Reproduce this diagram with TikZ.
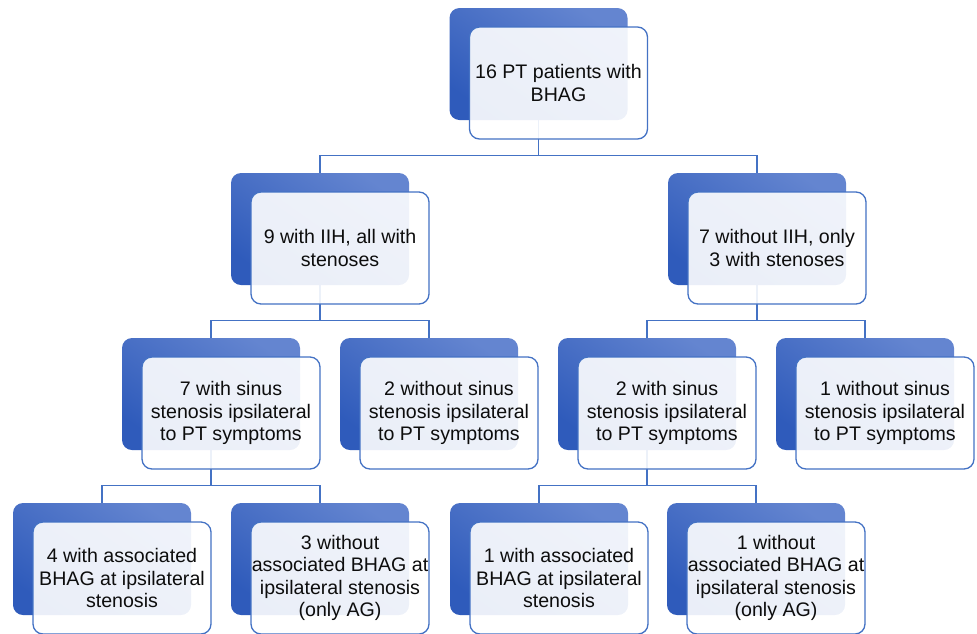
\documentclass[tikz,border=0pt]{standalone}
\usepackage{fontspec}
\setmainfont{Liberation Sans}
\definecolor{bdark}{HTML}{2F5BBB}
\definecolor{blight}{HTML}{6485D0}
\definecolor{bline}{HTML}{4472C4}
\definecolor{txt}{HTML}{0D0D0D}
\tikzset{
  backbox/.style={rectangle, rounded corners=10pt, minimum width=178pt, minimum height=112pt,
    inner sep=0pt, draw=none, top color=blight, bottom color=bdark, shading angle=-35},
  hiddenbox/.style={rectangle, minimum width=178pt, minimum height=112pt, inner sep=0pt},
  frontbox/.style={rectangle, rounded corners=10pt, minimum width=178pt, minimum height=112pt,
    inner sep=0pt, draw=bline, line width=1.3pt, fill=white, fill opacity=0.9, text opacity=1,
    text=txt, align=center, font=\fontsize{19.6}{22.3}\selectfont},
  conn/.style={draw=bline, line width=1.2pt}
}
\newcommand{\pbox}[4]{%
  \node[backbox] (#1-b) at (#2,#3) {};
  \node[frontbox] (#1) at ([shift={(20,19)}]#1-b.center) {#4};
}
\begin{document}
\begin{tikzpicture}[x=1pt,y=-1pt]
\useasboundingbox (0,0) rectangle (977,633);
% placeholders for the back boxes, so that connectors lie beneath them
\node[hiddenbox] (top-h) at (538.5,64) {};
\node[hiddenbox] (l2a-h) at (320,229) {};
\node[hiddenbox] (l2b-h) at (757,229) {};
\node[hiddenbox] (l3a-h) at (211,394) {};
\node[hiddenbox] (l3b-h) at (429,394) {};
\node[hiddenbox] (l3c-h) at (647,394) {};
\node[hiddenbox] (l3d-h) at (865,394) {};
\node[hiddenbox] (l4a-h) at (102,559) {};
\node[hiddenbox] (l4b-h) at (320,559) {};
\node[hiddenbox] (l4c-h) at (539,559) {};
\node[hiddenbox] (l4d-h) at (756,559) {};
% connectors
\draw[conn] (top-h.south) -- ++(0,35) coordinate (m1);
\draw[conn] (m1 -| l2a-h.north) -- (l2a-h.north) (m1 -| l2a-h.north) -- (m1 -| l2b-h.north) -- (l2b-h.north);
\draw[conn] (l2a-h.south) -- ++(0,35) coordinate (m2);
\draw[conn] (m2 -| l3a-h.north) -- (l3a-h.north) (m2 -| l3a-h.north) -- (m2 -| l3b-h.north) -- (l3b-h.north);
\draw[conn] (l2b-h.south) -- ++(0,35) coordinate (m3);
\draw[conn] (m3 -| l3c-h.north) -- (l3c-h.north) (m3 -| l3c-h.north) -- (m3 -| l3d-h.north) -- (l3d-h.north);
\draw[conn] (l3a-h.south) -- ++(0,35) coordinate (m4);
\draw[conn] (m4 -| l4a-h.north) -- (l4a-h.north) (m4 -| l4a-h.north) -- (m4 -| l4b-h.north) -- (l4b-h.north);
\draw[conn] (l3c-h.south) -- ++(0,35) coordinate (m5);
\draw[conn] (m5 -| l4c-h.north) -- (l4c-h.north) (m5 -| l4c-h.north) -- (m5 -| l4d-h.north) -- (l4d-h.north);
% boxes
\pbox{top}{538.5}{64}{16 PT patients with\\BHAG}
\pbox{l2a}{320}{229}{9 with IIH, all with\\stenoses}
\pbox{l2b}{757}{229}{7 without IIH, only\\3 with stenoses}
\pbox{l3a}{211}{394}{7 with sinus\\stenosis ipsilateral\\to PT symptoms}
\pbox{l3b}{429}{394}{2 without sinus\\stenosis ipsilateral\\to PT symptoms}
\pbox{l3c}{647}{394}{2 with sinus\\stenosis ipsilateral\\to PT symptoms}
\pbox{l3d}{865}{394}{1 without sinus\\stenosis ipsilateral\\to PT symptoms}
\pbox{l4a}{102}{559}{4 with associated\\BHAG at ipsilateral\\stenosis}
\pbox{l4b}{320}{559}{3 without\\associated BHAG at\\ipsilateral stenosis\\(only AG)}
\pbox{l4c}{539}{559}{1 with associated\\BHAG at ipsilateral\\stenosis}
\pbox{l4d}{756}{559}{1 without\\associated BHAG at\\ipsilateral stenosis\\(only AG)}
\end{tikzpicture}
\end{document}
